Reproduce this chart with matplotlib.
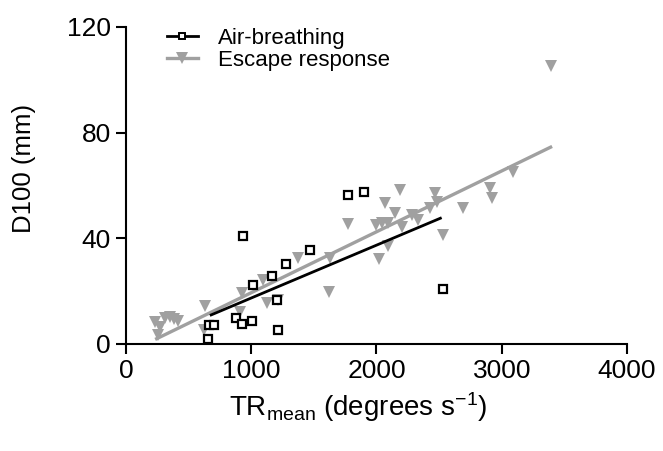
import matplotlib
matplotlib.use('Agg')
import matplotlib.pyplot as plt

plt.rcParams['font.family'] = ['Liberation Sans', 'DejaVu Sans']
plt.rcParams['mathtext.fontset'] = 'custom'
plt.rcParams['mathtext.rm'] = 'Liberation Sans'
plt.rcParams['mathtext.it'] = 'Liberation Sans:italic'

# Air-breathing: TRmean (degrees/s) vs D100 (mm)
air_x = [655, 665, 700, 878, 930, 934, 1006, 1011, 1168, 1205, 1216, 1275, 1469, 1772, 1900, 2531]
air_y = [1.8, 7.2, 7.2, 9.7, 7.6, 40.9, 8.7, 22.2, 25.9, 16.7, 5.3, 30.2, 35.4, 56.4, 57.5, 20.8]
air_fit_x = [680, 2510]
air_fit_y = [11.0, 47.6]

# Escape response
esc_x = [232, 258, 270, 310, 350, 380, 418, 623, 631, 910, 924, 1096, 1123, 1216,
         1376, 1620, 1629, 1770, 2000, 2022, 2041, 2068, 2094, 2094, 2148, 2188,
         2201, 2281, 2334, 2427, 2467, 2481, 2533, 2693, 2906, 2920, 3092, 3393]
esc_y = [8.4, 3.4, 6.5, 10.0, 10.3, 9.5, 8.8, 5.3, 14.4, 12.0, 19.2, 24.2, 15.4, 16.7,
         32.6, 19.8, 32.7, 45.6, 45.0, 32.2, 45.7, 53.3, 45.7, 37.0, 49.5, 58.3,
         44.4, 48.8, 46.9, 51.4, 57.0, 53.9, 41.3, 51.4, 58.9, 55.1, 65.2, 105.2]
esc_fit_x = [245, 3390]
esc_fit_y = [2.0, 74.5]

gray = '#a0a0a0'

fig = plt.figure(figsize=(6.63, 4.51), dpi=100)
ax = fig.add_axes([0.190, 0.2373, 0.7557, 0.7029])

ax.plot(esc_fit_x, esc_fit_y, color=gray, lw=2.4, zorder=2)
ax.plot(esc_x, esc_y, 'v', color=gray, ms=8.5, mew=0, zorder=3, clip_on=False)
ax.plot(air_fit_x, air_fit_y, color='black', lw=2.0, zorder=4)
ax.plot(air_x, air_y, 's', mfc='white', mec='black', ms=6, mew=1.6, zorder=5, clip_on=False)

# legend handles: line + marker
ax.plot([], [], '-s', color='black', mfc='white', mec='black', ms=5, mew=1.4, lw=2.0,
        label='Air-breathing')
ax.plot([], [], '-v', color=gray, ms=8, mew=0, lw=2.4, label='Escape response')
ax.legend(loc='upper left', bbox_to_anchor=(0.081, 0.998), frameon=False, fontsize=16,
          handlelength=1.4, handletextpad=0.9, labelspacing=0.05, borderpad=0,
          borderaxespad=0)

ax.set_xlim(0, 4000)
ax.set_ylim(0, 120)
ax.set_xticks([0, 1000, 2000, 3000, 4000])
ax.set_yticks([0, 40, 80, 120])
ax.tick_params(direction='out', length=7, width=1.5, labelsize=19, pad=4)

for s in ['top', 'right']:
    ax.spines[s].set_visible(False)
for s in ['left', 'bottom']:
    ax.spines[s].set_linewidth(1.5)

ax.set_ylabel('D100 (mm)', fontsize=18.5)
ax.set_xlabel(r'TR$_{\mathrm{mean}}$ (degrees s$^{\mathrm{-1}}$)', fontsize=20)
ax.yaxis.set_label_coords(-0.18, 0.555)
ax.xaxis.set_label_coords(0.463, -0.145)

fig.savefig('out.png', dpi=100)
